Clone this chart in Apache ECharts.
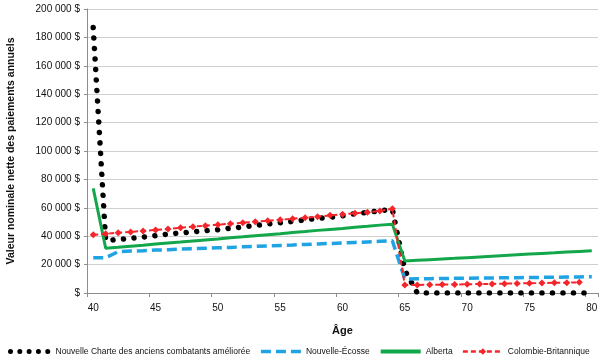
<!DOCTYPE html>
<html>
<head>
<meta charset="utf-8">
<script src="https://cdn.jsdelivr.net/npm/echarts@6/dist/echarts.min.js"></script>
<style>
html,body{margin:0;padding:0;background:#fff;}
#chart{width:600px;height:360px;}
</style>
</head>
<body>
<div id="chart"></div>
<script>
var ages = ['40','41','42','43','44','45','46','47','48','49','50','51','52','53','54','55','56','57','58','59','60','61','62','63','64','65','66','67','68','69','70','71','72','73','74','75','76','77','78','79','80'];

var seriesNames = ['Nouvelle Charte des anciens combatants améliorée','Nouvelle-Écosse','Alberta','Colombie-Britannique'];

var charteValues = [187000,37000,37700,38500,39400,40400,41500,42300,43000,43900,44600,45600,46500,47600,48600,49500,50400,51500,52600,53400,54300,55800,56700,57900,59000,16000,0,0,0,0,0,0,0,0,0,0,0,0,0,0,0];

var ecosseValues = [24900,24900,29100,29500,29800,30200,30500,30900,31200,31500,31800,32100,32500,32800,33100,33500,33800,34200,34500,34900,35200,35600,36000,36400,36800,9900,10000,10100,10200,10300,10400,10500,10600,10700,10800,10900,11000,11100,11200,11300,11500];

var albertaValues = [73700,31500,32200,33000,33700,34500,35200,35900,36700,37400,38100,38900,39600,40400,41100,41800,42600,43300,44100,44800,45500,46300,47000,47800,48500,22500,23000,23500,24000,24400,24900,25400,25900,26400,26900,27400,27900,28300,28800,29300,29800];

var cbValues = [41000,41700,42400,43000,43700,44400,45100,46000,46700,47400,48100,48800,49500,50200,50900,51600,52300,53000,53700,54700,55400,56100,56800,57700,59300,5600,5700,5800,5900,6000,6200,6300,6400,6600,6700,6900,7000,7200,7300,7500,null];

var yTickLabels = ['$','20 000 $','40 000 $','60 000 $','80 000 $','100 000 $','120 000 $','140 000 $','160 000 $','180 000 $','200 000 $'];

var xAxisTitle = 'Âge';
var yAxisTitle = 'Valeur nominale nette des paiements annuels';

var FONT = 'Liberation Sans, Arial, sans-serif';
var hiddenSymbol = {opacity: 0, color: 'rgba(0,0,0,0)', borderWidth: 0};

var chart = echarts.init(document.getElementById('chart'), null, {renderer:'canvas'});
chart.setOption({
  animation: false,
  backgroundColor: '#fff',
  textStyle: {fontFamily: FONT},
  grid: {left: 87, right: 2, top: 9, bottom: 67, containLabel: false, outerBoundsMode: 'none'},
  legend: {
    bottom: -1,
    left: 3,
    width: 597,
    itemWidth: 40,
    itemHeight: 8,
    itemGap: 9,
    textStyle: {fontSize: 8.5, color: '#111', fontFamily: FONT},
    data: [
      {name: seriesNames[0], icon: 'inherit', itemStyle: hiddenSymbol,
       lineStyle: {color: '#000', width: 5, type: [0.01, 9.3], cap: 'round'}},
      {name: seriesNames[1], icon: 'inherit', itemStyle: hiddenSymbol,
       lineStyle: {color: '#1fa3e3', width: 3.5, type: [10, 5]}},
      {name: seriesNames[2], icon: 'inherit', itemStyle: hiddenSymbol,
       lineStyle: {color: '#12a74a', width: 4}},
      {name: seriesNames[3], icon: 'inherit',
       lineStyle: {color: '#f5262b', width: 2.5, type: [5, 3]}}
    ]
  },
  xAxis: {
    type: 'category',
    data: ages,
    boundaryGap: true,
    name: xAxisTitle,
    nameLocation: 'middle',
    nameGap: 32,
    nameTextStyle: {fontSize: 11, fontWeight: 'bold', color: '#111', fontFamily: FONT},
    axisLine: {lineStyle: {color: '#8c8c8c', width: 1}},
    axisTick: {show: true, interval: 4, length: 4, lineStyle: {color: '#8c8c8c'}},
    axisLabel: {interval: 4, fontSize: 10, color: '#111', margin: 10},
    splitLine: {show: false}
  },
  yAxis: {
    type: 'value',
    min: 0,
    max: 200000,
    interval: 20000,
    name: yAxisTitle,
    nameLocation: 'middle',
    nameGap: 70,
    nameRotate: 90,
    nameTextStyle: {fontSize: 10.5, fontWeight: 'bold', color: '#111', fontFamily: FONT},
    axisLine: {show: true, lineStyle: {color: '#8c8c8c', width: 1}},
    axisTick: {show: true, length: 3, lineStyle: {color: '#8c8c8c'}},
    axisLabel: {
      fontSize: 10, color: '#111', margin: 7,
      formatter: function (v) { return yTickLabels[Math.round(v / 20000)]; }
    },
    splitLine: {show: true, lineStyle: {color: '#cfcfcf', width: 1}}
  },
  series: [
    {
      name: seriesNames[0],
      type: 'line',
      data: charteValues,
      symbol: 'none',
      lineStyle: {color: '#000', width: 5.5, type: [0.01, 10.5], cap: 'round', join: 'round'},
      itemStyle: {color: '#000'}
    },
    {
      name: seriesNames[1],
      type: 'line',
      data: ecosseValues,
      symbol: 'none',
      lineStyle: {color: '#1fa3e3', width: 3.5, type: [10, 5]},
      itemStyle: {color: '#1fa3e3'}
    },
    {
      name: seriesNames[2],
      type: 'line',
      data: albertaValues,
      symbol: 'none',
      lineStyle: {color: '#12a74a', width: 3},
      itemStyle: {color: '#12a74a'}
    },
    {
      name: seriesNames[3],
      type: 'line',
      data: cbValues,
      symbol: 'diamond',
      symbolSize: 7,
      showSymbol: true,
      lineStyle: {color: '#f5262b', width: 2, type: [5, 3]},
      itemStyle: {color: '#f5262b', borderWidth: 0}
    }
  ]
});
</script>
</body>
</html>
